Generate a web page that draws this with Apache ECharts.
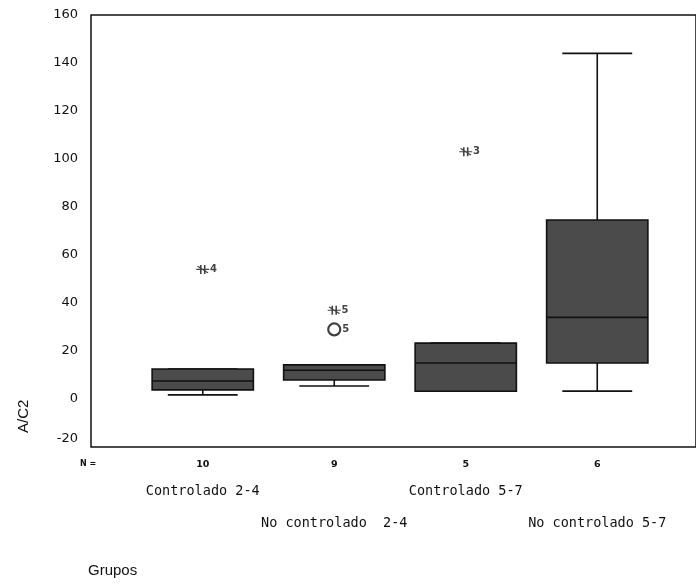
<!DOCTYPE html>
<html>
<head>
<meta charset="utf-8">
<script src="https://cdn.jsdelivr.net/npm/echarts@6/dist/echarts.min.js"></script>
<style>html,body{margin:0;padding:0;background:#fff}#c{width:696px;height:585px}</style>
</head>
<body>
<div id="c"></div>
<script>
const categories = ['Controlado 2-4', 'No controlado  2-4', 'Controlado 5-7', 'No controlado 5-7'];
const counts = [10, 9, 5, 6];
const mins = [1.7, 5.4, 3.2, 3.3];
const q1s = [3.8, 7.9, 3.2, 15];
const medians = [7.5, 12, 15, 34];
const q3s = [12.5, 14.2, 23.3, 74.6];
const maxs = [12.5, 14.2, 23.3, 144];
const extremes = [[0, 54, '4'], [1, 37, '5'], [2, 103, '3']];
const outliers = [[1, 29, '5']];
const yTicks = [-20, 0, 20, 40, 60, 80, 100, 120, 140, 160];

const boxData = categories.map((c, i) => [i, mins[i], q1s[i], medians[i], q3s[i], maxs[i]]);

function renderBox(params, api) {
  const i = api.value(0);
  const cx = api.coord([i, api.value(3)])[0];
  const y = k => api.coord([i, api.value(k)])[1];
  const yMin = y(1), yQ1 = y(2), yMed = y(3), yQ3 = y(4), yMax = y(5);
  const bw = api.size([1, 0])[0] * 0.77;
  const cap = bw * 0.69;
  const ls = { stroke: '#111', lineWidth: 1.6 };
  const line = (x1, y1, x2, y2) => ({ type: 'line', shape: { x1, y1, x2, y2 }, style: ls });
  return {
    type: 'group',
    children: [
      line(cx, yQ3, cx, yMax),
      line(cx - cap / 2, yMax, cx + cap / 2, yMax),
      line(cx, yQ1, cx, yMin),
      line(cx - cap / 2, yMin, cx + cap / 2, yMin),
      { type: 'rect', shape: { x: cx - bw / 2, y: yQ3, width: bw, height: yQ1 - yQ3 },
        style: { fill: '#4b4b4b', stroke: '#111', lineWidth: 1.6 } },
      line(cx - bw / 2, yMed, cx + bw / 2, yMed)
    ]
  };
}

const chart = echarts.init(document.getElementById('c'), null, { renderer: 'canvas' });
const txt = '#111';
chart.setOption({
  animation: false,
  backgroundColor: '#fff',
  grid: [
    { left: 137, top: 15, width: 526, height: 432, show: false },
    { left: 91, top: 15, width: 620, height: 432, show: true, borderColor: '#111', borderWidth: 1.5, backgroundColor: 'transparent' }
  ],
  xAxis: [
    {
      type: 'category', gridIndex: 0, data: categories, boundaryGap: true,
      axisLine: { show: false }, axisTick: { show: false },
      axisLabel: {
        interval: 0, margin: 12, color: txt,
        formatter: (v, i) => '{n|' + counts[i] + '}\n' + (i % 2 === 0 ? '{s1| }' : '{s2| }') + '\n{c|' + v + '}',
        rich: {
          n: { fontSize: 9.5, fontWeight: 'bold', lineHeight: 12, fontFamily: 'DejaVu Sans', color: txt },
          s1: { fontSize: 6, lineHeight: 12 },
          s2: { fontSize: 6, lineHeight: 44 },
          c: { fontSize: 13.5, lineHeight: 16, fontFamily: 'DejaVu Sans Mono', color: txt }
        }
      }
    },
    { type: 'value', gridIndex: 1, show: false, min: 0, max: 1 }
  ],
  yAxis: [
    { type: 'value', gridIndex: 0, min: -20, max: 160, interval: 20, show: false },
    {
      type: 'value', gridIndex: 1, min: yTicks[0], max: yTicks[yTicks.length - 1], interval: 20,
      axisLine: { show: false }, axisTick: { show: false }, splitLine: { show: false },
      axisLabel: {
        margin: 13, color: txt, fontSize: 13, fontFamily: 'DejaVu Sans',
        formatter: v => v === -20 ? '{m|-20}' : String(v),
        rich: { m: { fontSize: 13, fontFamily: 'DejaVu Sans', color: txt, padding: [0, 0, 16, 0] } }
      }
    }
  ],
  graphic: [
    { type: 'text', left: 80, top: 460, style: { text: 'N =', fontSize: 8, fontWeight: 'bold', fontFamily: 'DejaVu Sans', fill: txt } },
    { type: 'text', x: 16, y: 433, rotation: Math.PI / 2, style: { text: 'A/C2', fontSize: 15, fontFamily: 'Liberation Sans', fill: txt } },
    { type: 'text', left: 88, top: 563, style: { text: 'Grupos', fontSize: 15, fontFamily: 'Liberation Sans', fill: txt } }
  ],
  series: [
    {
      type: 'custom', xAxisIndex: 0, yAxisIndex: 0, renderItem: renderBox,
      encode: { x: 0, y: [1, 2, 3, 4, 5] }, data: boxData, z: 2
    },
    {
      type: 'scatter', xAxisIndex: 0, yAxisIndex: 0, data: extremes,
      symbol: 'path://M0,5L10,5M3.5,1L3.5,9M6.5,1L6.5,9M1,2L9,8',
      symbolSize: [13, 9],
      itemStyle: { color: 'rgba(0,0,0,0)', borderColor: '#111', borderWidth: 1.3 },
      label: { show: true, position: 'right', distance: 0, fontSize: 10, fontWeight: 'bold', fontFamily: 'DejaVu Sans', color: txt, formatter: p => p.value[2] },
      z: 3
    },
    {
      type: 'scatter', xAxisIndex: 0, yAxisIndex: 0, data: outliers,
      symbol: 'circle', symbolSize: 12,
      itemStyle: { color: 'rgba(0,0,0,0)', borderColor: '#111', borderWidth: 2.2 },
      label: { show: true, position: 'right', distance: 1, fontSize: 10, fontWeight: 'bold', fontFamily: 'DejaVu Sans', color: txt, formatter: p => p.value[2] },
      z: 3
    }
  ]
});
</script>
</body>
</html>
